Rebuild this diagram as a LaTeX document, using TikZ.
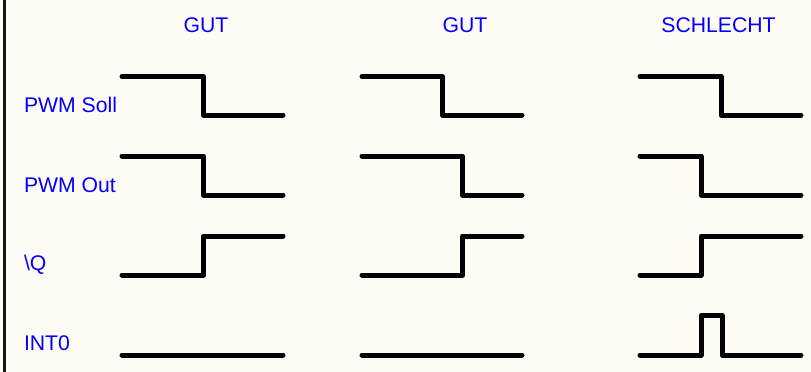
\documentclass[tikz,border=0pt]{standalone}
\usepackage{fontspec}
\setmainfont{Liberation Sans}
\definecolor{bgcream}{RGB}{255,252,246}
\definecolor{lblblue}{RGB}{0,0,255}
\definecolor{framegray}{RGB}{20,20,20}
\tikzset{
  wave/.style={line width=5pt, line cap=round, line join=round, black},
  title/.style={anchor=base, inner sep=0pt, text=lblblue, font=\fontsize{21.2}{25}\selectfont},
  rowlabel/.style={anchor=base west, inner sep=0pt, text=lblblue, font=\fontsize{21.2}{25}\selectfont},
}
\begin{document}
\begin{tikzpicture}[x=1pt,y=-1pt]
\fill[bgcream] (0,0) rectangle (811,372);
\useasboundingbox (0,0) rectangle (811,372);
\draw[framegray, line width=2.2pt] (4.5,0) -- (4.5,372);
% titles
\node[title] (t1) at (206,32) {GUT};
\node[title] (t2) at (465,32) {GUT};
\node[title] (t3) at (718.5,32) {SCHLECHT};
% row labels
\node[rowlabel] (l1) at (23.8,112) {PWM Soll};
\node[rowlabel] (l2) at (23.8,192) {PWM Out};
\node[rowlabel] (l3) at (23.8,270) {\textbackslash Q};
\node[rowlabel] (l4) at (23.8,350) {INT0};
% column 1
\draw[wave] (122,76.5) -- (203.5,76.5) -- (203.5,115) -- (283,115);
\draw[wave] (122,156) -- (203.5,156) -- (203.5,195) -- (283,195);
\draw[wave] (122,275) -- (203.5,275) -- (203.5,236) -- (283,236);
\draw[wave] (122,355) -- (283,355);
% column 2
\draw[wave] (362,76.5) -- (442.5,76.5) -- (442.5,115) -- (522,115);
\draw[wave] (362,156) -- (462.5,156) -- (462.5,195) -- (522,195);
\draw[wave] (362,275) -- (462.5,275) -- (462.5,236) -- (522,236);
\draw[wave] (362,355) -- (522,355);
% column 3
\draw[wave] (640,76.5) -- (721,76.5) -- (721,115) -- (801,115);
\draw[wave] (640,156) -- (701,156) -- (701,195) -- (801,195);
\draw[wave] (640,275) -- (701,275) -- (701,236) -- (801,236);
\draw[wave] (640,355) -- (701,355) -- (701,315.5) -- (722,315.5) -- (722,355) -- (801,355);
\end{tikzpicture}
\end{document}
